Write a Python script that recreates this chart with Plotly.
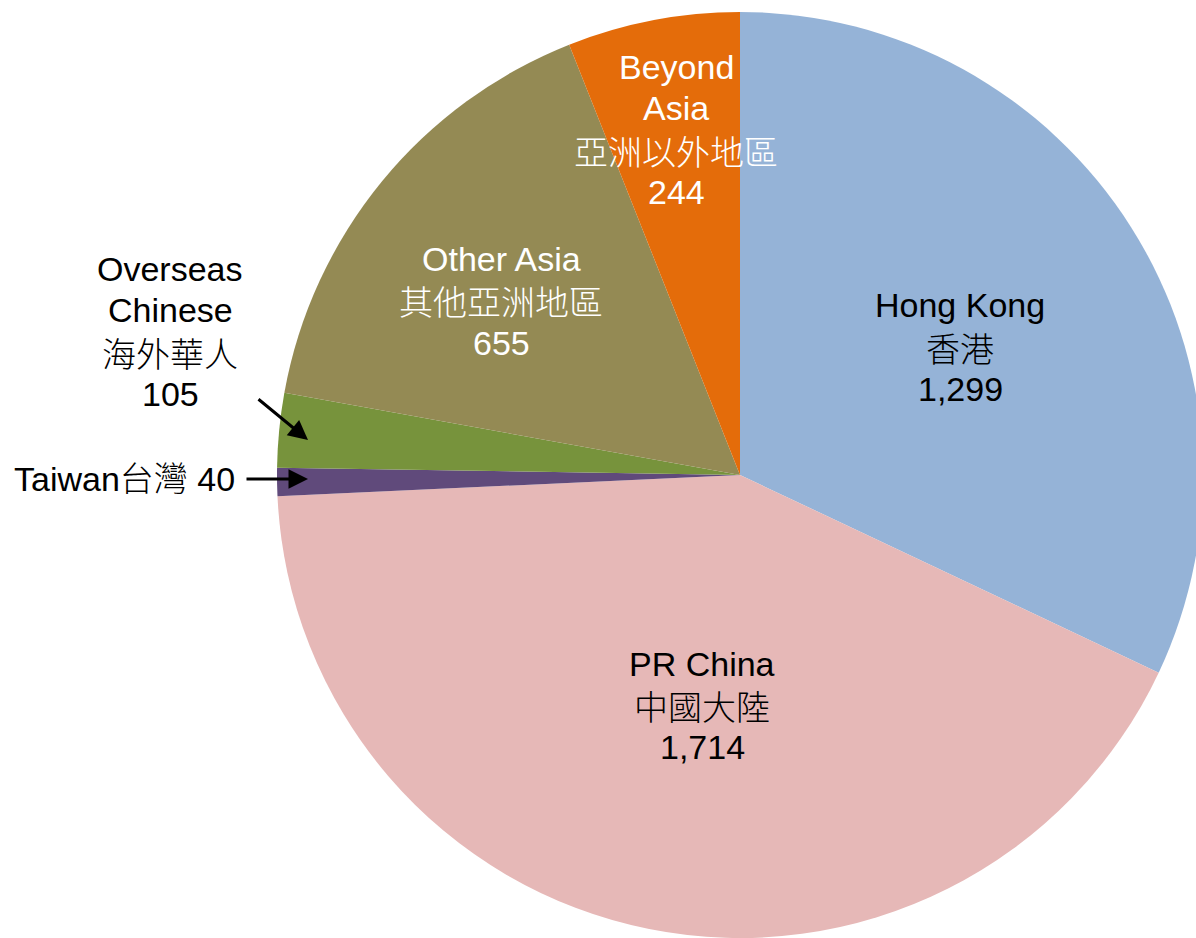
import plotly.graph_objects as go

# ---- data ----
labels_en = ["Hong Kong", "PR China", "Taiwan", "Overseas Chinese", "Other Asia", "Beyond Asia"]
labels_zh = ["香港", "中國大陸", "台灣", "海外華人", "其他亞洲地區", "亞洲以外地區"]
values = [1299, 1714, 40, 105, 655, 244]
colors = ["#95B3D7", "#E6B8B7", "#604A7B", "#77933C", "#948A54", "#E46C0A"]

# ---- layout helpers ----
W, H = 1210, 940
LATIN = "Arial, 'Liberation Sans', 'Noto Sans CJK TC', sans-serif"
CJK = "'Noto Sans CJK TC', 'Noto Sans CJK JP', sans-serif"
FS = 34
LINE = 41.8

def px(x):
    return x / W

def py(y):
    return 1 - y / H

# first-line centre (px), font colour, wrap english name, mode
label_style = {
    "Hong Kong":        dict(pos=(960, 305.5), color="black", wrap=False, mode="block"),
    "PR China":         dict(pos=(702, 663.5), color="black", wrap=False, mode="block"),
    "Taiwan":           dict(pos=(124, 479), color="black", wrap=False, mode="inline"),
    "Overseas Chinese": dict(pos=(170, 268.5), color="black", wrap=True, mode="block"),
    "Other Asia":       dict(pos=(501, 259), color="white", wrap=False, mode="block"),
    "Beyond Asia":      dict(pos=(676, 66.5), color="white", wrap=True, mode="block"),
}
arrows = [((257, 398), (308, 440)), ((245, 479), (308, 479))]

fig = go.Figure()
fig.add_trace(go.Pie(
    labels=labels_en,
    values=values,
    sort=False,
    direction="clockwise",
    rotation=0,
    marker=dict(colors=colors, line=dict(width=0)),
    textinfo="none",
    hoverinfo="label+value",
    showlegend=False,
    domain=dict(x=[px(277), px(1203)], y=[py(938), py(12)]),
))

annotations = []

def add_text(x, y, text, color, family, weight="normal"):
    annotations.append(dict(
        x=px(x), y=py(y), xref="paper", yref="paper",
        text=text, showarrow=False, xanchor="center", yanchor="middle",
        align="center",
        font=dict(family=family, size=FS, color=color, weight=weight),
    ))

for en, zh, v in zip(labels_en, labels_zh, values):
    st = label_style[en]
    x0, y0 = st["pos"]
    if st["mode"] == "inline":
        add_text(x0, y0, f"{en}{zh} {v:,}", st["color"], LATIN, 300)
        continue
    lines = [(s, LATIN, "normal") for s in (en.split(" ") if st["wrap"] else [en])]
    lines += [(zh, CJK, 300), (f"{v:,}", LATIN, "normal")]
    for i, (s, fam, wt) in enumerate(lines):
        add_text(x0, y0 + i * LINE, s, st["color"], fam, wt)

for (x0, y0), (x1, y1) in arrows:
    annotations.append(dict(
        x=px(x1), y=py(y1), xref="paper", yref="paper",
        ax=x0 - x1, ay=y0 - y1, axref="pixel", ayref="pixel",
        text="", showarrow=True, arrowhead=2, arrowsize=1.3, arrowwidth=3,
        arrowcolor="black", standoff=0,
    ))

fig.update_layout(
    width=W, height=H,
    margin=dict(l=0, r=0, t=0, b=0),
    paper_bgcolor="white", plot_bgcolor="white",
    annotations=annotations,
)

fig.write_html(
    "out.html",
    config={"displayModeBar": False},
    post_script="document.body.style.margin='0';document.body.style.overflow='hidden';",
)
